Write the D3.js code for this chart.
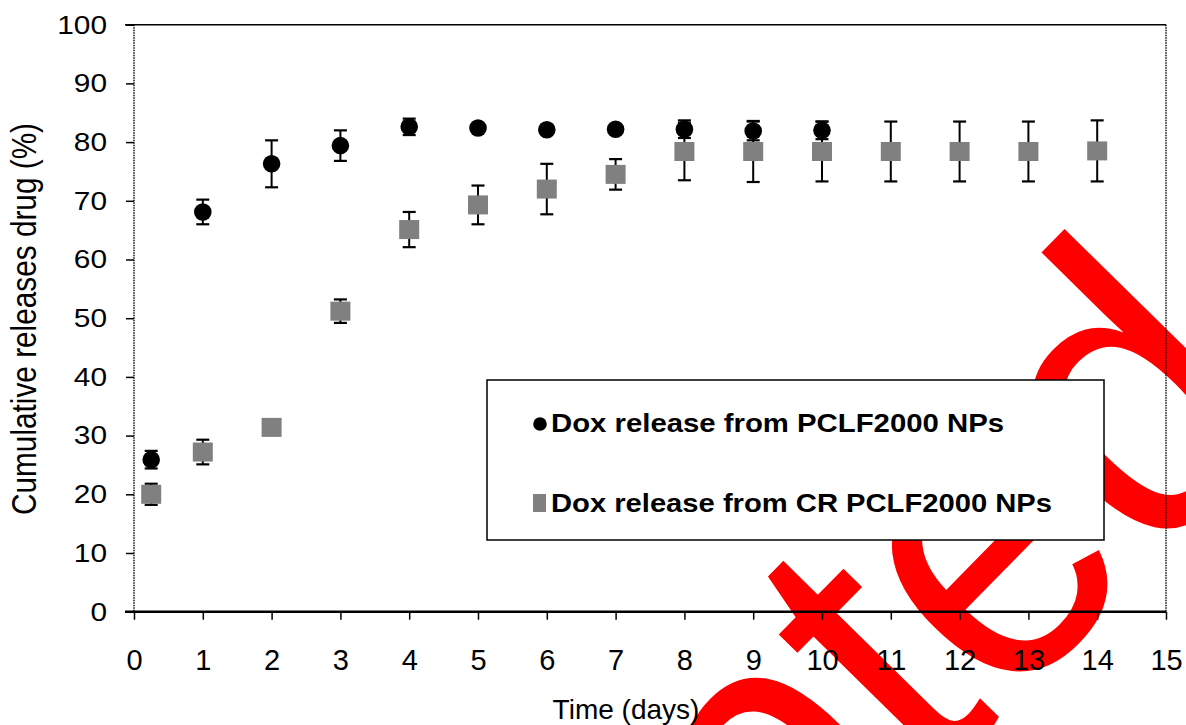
<!DOCTYPE html>
<html><head><meta charset="utf-8">
<script src="https://cdn.jsdelivr.net/npm/d3@7"></script>
<style>
body{margin:0;background:#fff;}
svg{display:block;font-family:Arial,"Liberation Sans",sans-serif;}
</style>
</head><body>
<svg id="c" width="1186" height="725"></svg>
<script>
// ---- data ----
const daysA = [0.25, 1, 2, 3, 4, 5, 6, 7, 8, 9, 10];
const releaseA = [25.9, 68.1, 76.3, 79.4, 82.6, 82.4, 82.1, 82.2, 82.2, 81.9, 82.0];
const errA = [1.5, 2.1, 4.0, 2.6, 1.4, 0.6, 0.6, 0.6, 1.5, 1.6, 1.5];
const daysB = [0.25, 1, 2, 3, 4, 5, 6, 7, 8, 9, 10, 11, 12, 13, 14];
const releaseB = [20.0, 27.2, 31.4, 51.2, 65.1, 69.3, 72.0, 74.5, 78.4, 78.4, 78.4, 78.4, 78.4, 78.4, 78.5];
const errB = [1.8, 2.1, 0.5, 2.0, 3.0, 3.3, 4.3, 2.6, 4.9, 5.2, 5.1, 5.1, 5.1, 5.1, 5.2];
const xTicks = [0,1,2,3,4,5,6,7,8,9,10,11,12,13,14,15];
const yTicks = [0,10,20,30,40,50,60,70,80,90,100];
const seriesNames = ["Dox release from PCLF2000 NPs", "Dox release from CR PCLF2000 NPs"];
const xTitle = "Time (days)";
const yTitle = "Cumulative releases drug (%)";
const watermark = "Accepted";

const svg = d3.select("#c");
const x = d3.scaleLinear().domain([0, 15]).range([134, 1166]);
const y = d3.scaleLinear().domain([0, 100]).range([611.7, 24.7]);

// ---- watermark (beneath chart) ----
const wm = svg.append("g").attr("transform", "translate(1002,716) rotate(-45.5) scale(0.96,1.05)");
const wmText = wm.append("text").attr("font-size", 390).attr("fill", "#ff0000")
  .attr("font-family", "Arial, 'Liberation Sans', sans-serif").text(watermark);
const pre = wmText.node().getSubStringLength(0, 6);
wmText.attr("x", -pre);

// ---- frame lines ----
svg.append("line").attr("x1", 125).attr("x2", x(15)).attr("y1", y(100)).attr("y2", y(100))
  .attr("stroke", "#000").attr("stroke-width", 1.4);
svg.append("line").attr("x1", x(0)).attr("x2", x(0)).attr("y1", y(100)).attr("y2", y(0))
  .attr("stroke", "#000").attr("stroke-width", 1.4).attr("stroke-dasharray", "1.5,1");
svg.append("line").attr("x1", x(15)).attr("x2", x(15)).attr("y1", y(100)).attr("y2", y(0))
  .attr("stroke", "#000").attr("stroke-width", 1.4).attr("stroke-dasharray", "1.5,1");

// ---- axes ----
const xAxis = svg.append("g").attr("transform", `translate(0,${y(0)})`)
  .call(d3.axisBottom(x).tickValues(xTicks).tickFormat(d3.format("d")).tickSize(8).tickSizeOuter(0).tickPadding(30));
xAxis.select(".domain").remove();
xAxis.selectAll(".tick line").attr("stroke", "#000").attr("stroke-width", 1.5);
xAxis.selectAll(".tick text").attr("font-size", 29).attr("fill", "#000")
  .attr("font-family", "Arial, 'Liberation Sans', sans-serif");
svg.append("line").attr("x1", 125).attr("x2", x(15)).attr("y1", y(0)).attr("y2", y(0))
  .attr("stroke", "#000").attr("stroke-width", 2.6);

const yAxis = svg.append("g").attr("transform", `translate(${x(0)},0)`)
  .call(d3.axisLeft(y).tickValues(yTicks).tickFormat(d3.format("d")).tickSize(8).tickSizeOuter(0).tickPadding(19));
yAxis.select(".domain").remove();
yAxis.selectAll(".tick line").attr("stroke", "#000").attr("stroke-width", 1.5);
yAxis.selectAll(".tick text").attr("font-size", 26).attr("fill", "#000")
  .attr("font-family", "Arial, 'Liberation Sans', sans-serif")
  .attr("textLength", d => String(d).length * 16.6).attr("lengthAdjust", "spacingAndGlyphs");

// ---- error bars + markers ----
function drawSeries(days, vals, errs, cls) {
  const g = svg.append("g").attr("class", cls);
  const eb = g.selectAll("g.eb").data(days.map((d, i) => ({d, v: vals[i], e: errs[i]}))).join("g");
  eb.append("line").attr("x1", p => x(p.d)).attr("x2", p => x(p.d))
    .attr("y1", p => y(p.v - p.e)).attr("y2", p => y(p.v + p.e)).attr("stroke", "#000").attr("stroke-width", 2);
  [-1, 1].forEach(s => {
    eb.append("line").attr("x1", p => x(p.d) - 6.5).attr("x2", p => x(p.d) + 6.5)
      .attr("y1", p => y(p.v + s * p.e)).attr("y2", p => y(p.v + s * p.e))
      .attr("stroke", "#000").attr("stroke-width", 2.2);
  });
  return g;
}
const gA = drawSeries(daysA, releaseA, errA, "sA");
gA.selectAll("circle").data(daysA).join("circle")
  .attr("cx", d => x(d)).attr("cy", (d, i) => y(releaseA[i])).attr("r", 8.8).attr("fill", "#000");
const gB = drawSeries(daysB, releaseB, errB, "sB");
gB.selectAll("rect.m").data(daysB).join("rect").attr("class", "m")
  .attr("x", d => x(d) - 10).attr("y", (d, i) => y(releaseB[i]) - 9.5)
  .attr("width", 20).attr("height", 19).attr("fill", "#808080");

// ---- legend ----
const lg = svg.append("g");
lg.append("rect").attr("x", 487).attr("y", 380).attr("width", 617).attr("height", 160)
  .attr("fill", "#fff").attr("stroke", "#000").attr("stroke-width", 1.5);
lg.append("circle").attr("cx", 540).attr("cy", 424).attr("r", 6.8).attr("fill", "#000");
lg.append("rect").attr("x", 533).attr("y", 494).attr("width", 13).attr("height", 18).attr("fill", "#808080");
const legendY = [432, 512];
const legendW = [453, 501];
lg.selectAll("text").data(seriesNames).join("text")
  .attr("x", 551).attr("y", (d, i) => legendY[i]).attr("font-size", 26).attr("font-weight", "bold")
  .attr("fill", "#000").attr("textLength", (d, i) => legendW[i]).attr("lengthAdjust", "spacingAndGlyphs")
  .text(d => d);

// ---- axis titles ----
svg.append("text").attr("x", 626).attr("y", 719).attr("text-anchor", "middle")
  .attr("font-size", 28).attr("fill", "#000").text(xTitle);
svg.append("text").attr("transform", "translate(36,319) scale(1.15,1) rotate(-90)")
  .attr("text-anchor", "middle").attr("font-size", 30).attr("fill", "#000")
  .attr("textLength", 392).attr("lengthAdjust", "spacingAndGlyphs").text(yTitle);
</script>
</body></html>
